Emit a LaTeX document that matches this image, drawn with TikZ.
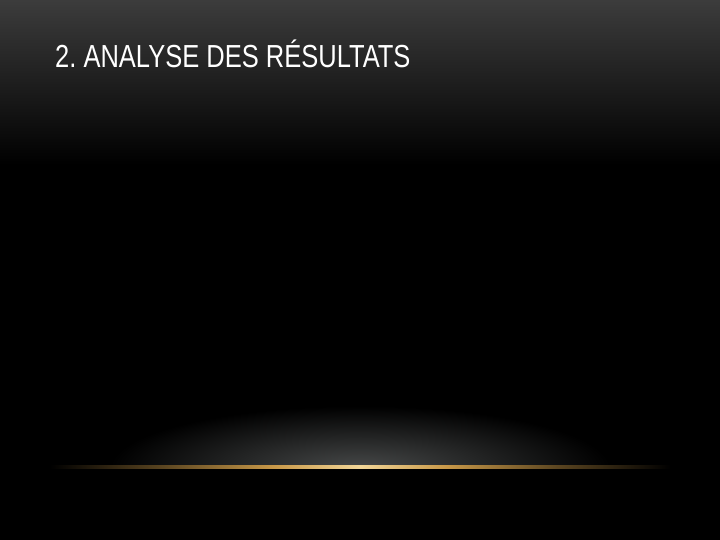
\documentclass[tikz,border=0pt]{standalone}
\usepackage{fontspec}
\setmainfont{Liberation Sans}
\usepackage{xcolor}
\usepackage{tikz}
\definecolor{topgray}{HTML}{3C3C3C}
\definecolor{glowgray}{HTML}{474949}
\definecolor{gold}{HTML}{C89848}
\definecolor{goldlight}{HTML}{F2D698}
\pgfdeclarehorizontalshading{goldline}{100bp}{color(0bp)=(black); color(25bp)=(black);
  color(34bp)=(gold!45!black); color(43bp)=(gold); color(50bp)=(goldlight);
  color(57bp)=(gold); color(66bp)=(gold!45!black); color(75bp)=(black); color(100bp)=(black)}
\tikzset{titletext/.style={text=white,anchor=base west,inner sep=0pt,
    font=\fontsize{32}{36}\selectfont}}
\frenchspacing

\begin{document}
\begin{tikzpicture}[x=1bp,y=-1bp]
    \useasboundingbox (0,0) rectangle (720,540);
    \fill[black] (0,0) rectangle (720,540);
    \shade[top color=topgray,bottom color=black] (0,0) rectangle (720,165);
    \begin{scope}
      \clip (0,380) rectangle (720,467);
      \shade[inner color=glowgray,outer color=black] (360,468) ellipse (250 and 62);
    \end{scope}
    \shade[shading=goldline] (50,465) rectangle (670,468.5);
    \node[titletext] (title) at (55,68) {\scalebox{0.8}[1]{2. ANALYSE DES RÉSULTATS}};
  \end{tikzpicture}
\end{document}
